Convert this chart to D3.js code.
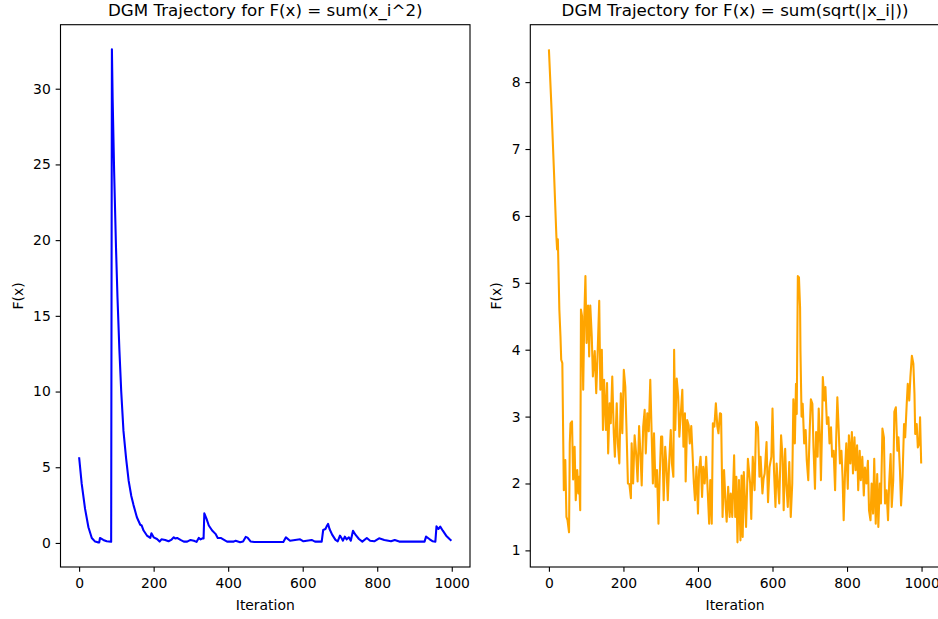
<!DOCTYPE html>
<html>
<head>
<meta charset="utf-8">
<script src="https://cdn.jsdelivr.net/npm/d3@7"></script>
<style>
  body { margin: 0; background: #fff; }
  svg { display: block; }
  text { font-family: 'DejaVu Sans', sans-serif; fill: #000; }
</style>
</head>
<body>
<script>
// Left panel: F(x) = sum(x_i^2), iteration / value pairs
const quadIter = [0, 7, 16, 25, 34, 43, 50, 54, 56, 65, 74, 85, 86, 88, 90, 94, 99, 103, 108, 113, 119, 126, 133, 140, 146, 155, 164, 168, 173, 182, 191, 194, 200, 209, 216, 221, 231, 240, 247, 254, 258, 263, 272, 281, 290, 299, 308, 315, 321, 326, 333, 334, 336, 342, 348, 357, 366, 372, 380, 389, 397, 415, 420, 432, 440, 447, 452, 460, 470, 548, 555, 566, 593, 602, 624, 633, 651, 655, 661, 664, 668, 672, 679, 688, 694, 700, 703, 708, 713, 718, 724, 729, 735, 742, 751, 760, 772, 781, 792, 805, 819, 837, 847, 859, 927, 931, 940, 949, 956, 959, 964, 969, 976, 985, 994, 999];
const quadVals = [5.66, 3.9, 2.25, 1.04, 0.33, 0.09, 0.04, 0.04, 0.33, 0.2, 0.11, 0.09, 0.08, 32.6, 29.3, 24.5, 19.5, 16.2, 12.8, 10.0, 7.4, 5.6, 4.1, 3.1, 2.5, 1.7, 1.2, 1.15, 0.82, 0.49, 0.33, 0.64, 0.37, 0.26, 0.09, 0.24, 0.2, 0.11, 0.2, 0.37, 0.29, 0.33, 0.2, 0.09, 0.09, 0.2, 0.15, 0.07, 0.33, 0.24, 0.33, 0.3, 1.96, 1.59, 1.15, 0.82, 0.6, 0.33, 0.33, 0.2, 0.09, 0.09, 0.15, 0.05, 0.1, 0.4, 0.35, 0.1, 0.06, 0.06, 0.37, 0.15, 0.24, 0.11, 0.2, 0.09, 0.09, 0.86, 0.92, 1.08, 1.26, 0.92, 0.55, 0.2, 0.11, 0.48, 0.37, 0.15, 0.42, 0.24, 0.37, 0.15, 0.81, 0.53, 0.26, 0.09, 0.33, 0.15, 0.11, 0.31, 0.2, 0.11, 0.2, 0.09, 0.09, 0.42, 0.26, 0.11, 0.09, 1.1, 0.92, 1.08, 0.81, 0.48, 0.26, 0.15];

// Right panel: F(x) = sum(sqrt(|x_i|))
const rootIter = [0, 7, 14, 20, 22, 24, 28, 31, 33, 36, 40, 44, 47, 50, 54, 56, 58, 62, 65, 69, 72, 76, 79, 81, 84, 86, 89, 92, 95, 98, 101, 105, 108, 111, 115, 118, 123, 127, 131, 135, 138, 142, 145, 148, 153, 156, 159, 163, 166, 170, 174, 177, 182, 185, 189, 193, 197, 201, 205, 208, 212, 216, 220, 222, 226, 230, 234, 238, 242, 246, 249, 253, 257, 260, 264, 268, 272, 275, 279, 282, 286, 290, 294, 297, 301, 304, 308, 312, 315, 319, 323, 327, 330, 334, 336, 339, 343, 347, 350, 354, 358, 361, 365, 367, 371, 375, 378, 382, 385, 389, 392, 396, 400, 403, 407, 411, 414, 418, 422, 426, 430, 433, 437, 440, 444, 448, 452, 455, 459, 462, 466, 470, 474, 477, 481, 485, 488, 492, 497, 500, 503, 506, 510, 514, 517, 520, 523, 529, 534, 540, 543, 547, 552, 556, 561, 565, 568, 573, 576, 579, 584, 588, 592, 597, 600, 604, 608, 611, 615, 618, 623, 627, 630, 634, 637, 641, 645, 649, 653, 656, 660, 663, 665, 668, 671, 674, 675, 678, 681, 685, 689, 692, 696, 700, 703, 707, 710, 714, 717, 721, 724, 728, 730, 733, 735, 739, 742, 746, 750, 753, 757, 760, 764, 768, 771, 774, 777, 781, 785, 788, 791, 795, 798, 802, 805, 809, 813, 816, 820, 823, 827, 830, 834, 837, 841, 845, 848, 852, 856, 859, 863, 866, 870, 873, 877, 881, 884, 888, 891, 895, 899, 902, 906, 910, 913, 917, 920, 924, 927, 931, 935, 938, 942, 945, 949, 953, 956, 960, 963, 967, 970, 974, 978, 981, 983, 987, 990, 994, 996, 999];
const rootVals = [8.49, 7.6, 6.6, 5.7, 5.5, 5.65, 4.6, 4.2, 3.85, 3.8, 1.9, 2.35, 1.5, 1.45, 1.27, 2.6, 2.9, 2.93, 2.06, 2.55, 1.75, 2.2, 1.85, 2.1, 1.6, 4.6, 4.5, 3.4, 4.5, 5.1, 4.1, 4.66, 3.9, 4.66, 4.2, 3.6, 3.98, 3.35, 4.0, 4.73, 3.4, 4.0, 2.8, 3.55, 2.8, 3.5, 2.45, 3.2, 2.9, 3.6, 2.76, 2.4, 3.2, 2.6, 2.3, 3.35, 2.75, 3.7, 3.45, 2.86, 2.0, 1.99, 1.78, 2.6, 2.0, 2.72, 2.45, 2.03, 2.86, 2.4, 1.97, 2.85, 3.1, 2.45, 3.05, 2.78, 3.55, 2.9, 2.0, 2.75, 1.95, 2.2, 1.4, 2.05, 2.7, 2.7, 1.75, 2.55, 2.3, 1.75, 2.35, 2.8, 2.3, 2.1, 4.0, 2.8, 3.57, 3.3, 2.7, 3.05, 3.4, 2.55, 3.05, 2.03, 2.95, 2.87, 2.6, 2.86, 2.5, 2.0, 1.75, 2.25, 1.55, 2.2, 2.4, 1.8, 2.25, 2.0, 2.4, 1.9, 1.4, 2.05, 1.4, 2.9, 2.85, 3.2, 2.85, 2.75, 3.05, 3.04, 1.5, 2.2, 1.7, 1.43, 1.95, 1.5, 1.85, 1.5, 2.42, 1.5, 2.1, 1.12, 2.05, 1.15, 2.12, 1.2, 2.17, 1.35, 2.37, 2.0, 1.47, 2.4, 1.9, 2.92, 2.84, 2.1, 2.4, 1.85, 2.07, 2.15, 2.62, 1.72, 2.24, 2.4, 3.12, 2.2, 1.65, 2.3, 1.95, 1.7, 2.72, 2.4, 1.6, 2.52, 2.0, 1.65, 2.32, 1.5, 2.0, 3.26, 2.6, 3.49, 3.04, 5.1, 5.08, 4.63, 3.99, 3.0, 3.19, 2.6, 2.8, 2.34, 2.05, 2.82, 3.26, 3.19, 2.54, 1.92, 2.77, 2.4, 3.12, 2.6, 2.05, 2.84, 3.59, 3.24, 3.44, 2.89, 2.99, 2.6, 2.84, 2.4, 2.49, 1.9, 2.7, 3.29, 2.89, 2.3, 2.49, 2.1, 1.45, 2.24, 2.6, 1.92, 2.72, 2.3, 2.77, 2.15, 2.69, 2.2, 2.57, 1.9, 2.49, 2.05, 2.4, 1.82, 2.24, 2.0, 2.34, 1.6, 1.45, 2.0, 1.55, 2.37, 1.4, 2.14, 1.35, 2.0, 1.7, 2.82, 2.69, 1.7, 1.9, 1.45, 2.0, 2.44, 1.65, 2.05, 3.07, 3.14, 2.49, 2.69, 2.2, 1.67, 2.1, 2.89, 2.69, 3.17, 3.49, 3.24, 3.59, 3.91, 3.79, 3.34, 2.74, 2.89, 2.54, 2.6, 2.99, 2.3];

// tick labels
const iterTicks = [0, 200, 400, 600, 800, 1000];
const quadTicks = [0, 5, 10, 15, 20, 25, 30];
const rootTicks = [1, 2, 3, 4, 5, 6, 7, 8];
const panelTitles = ['DGM Trajectory for F(x) = sum(x_i^2)', 'DGM Trajectory for F(x) = sum(sqrt(|x_i|))'];

document.addEventListener('DOMContentLoaded', function() {
    const svg = d3.select('body').append('svg')
        .attr('width', 938)
        .attr('height', 619);

    svg.append('rect').attr('width', 938).attr('height', 619).attr('fill', '#fff');

    const top = 24.7, bottom = 567;
    const tickLen = 4.86, tickPad = 4.86;

    // matplotlib style 5% margins around the data
    function padded(values) {
        const lo = d3.min(values), hi = d3.max(values);
        const m = (hi - lo) * 0.05;
        return [lo - m, hi + m];
    }

    // Draw one subplot
    function drawPanel(left, width, iters, vals, yTicks, color, title, ylabelX) {
        const g = svg.append('g');

        const x = d3.scaleLinear().domain(padded(iters)).range([left, left + width]);
        const y = d3.scaleLinear().domain(padded(vals)).range([bottom, top]);

        const line = d3.line()
            .x((d, i) => x(iters[i]))
            .y(d => y(d));

        g.append('path')
            .datum(vals)
            .attr('d', line)
            .attr('fill', 'none')
            .attr('stroke', color)
            .attr('stroke-width', 2.08)
            .attr('stroke-linejoin', 'round');

        // x axis
        const xAxis = g.append('g')
            .attr('transform', `translate(0,${bottom})`)
            .call(d3.axisBottom(x).tickValues(iterTicks).tickFormat(d3.format('d'))
                .tickSize(tickLen).tickPadding(tickPad).tickSizeOuter(0));
        xAxis.select('.domain').remove();
        xAxis.selectAll('text').attr('dy', '0.78em');

        // y axis
        const yAxis = g.append('g')
            .attr('transform', `translate(${left},0)`)
            .call(d3.axisLeft(y).tickValues(yTicks).tickFormat(d3.format('d'))
                .tickSize(tickLen).tickPadding(tickPad).tickSizeOuter(0));
        yAxis.select('.domain').remove();

        [xAxis, yAxis].forEach(a => {
            a.selectAll('line').attr('stroke', '#000').attr('stroke-width', 1.11);
            a.selectAll('text')
                .style('font-family', "'DejaVu Sans', sans-serif")
                .style('font-size', '13.9px')
                .attr('fill', '#000');
        });

        // axes frame
        g.append('rect')
            .attr('x', left)
            .attr('y', top)
            .attr('width', width)
            .attr('height', bottom - top)
            .attr('fill', 'none')
            .attr('stroke', '#000')
            .attr('stroke-width', 1.11);

        g.append('text')
            .attr('x', left + width / 2)
            .attr('y', 16)
            .attr('text-anchor', 'middle')
            .style('font-size', '16.7px')
            .text(title);

        g.append('text')
            .attr('x', left + width / 2)
            .attr('y', 610)
            .attr('text-anchor', 'middle')
            .style('font-size', '13.9px')
            .text('Iteration');

        g.append('text')
            .attr('transform', `translate(${ylabelX},${(top + bottom) / 2}) rotate(-90)`)
            .attr('text-anchor', 'middle')
            .style('font-size', '13.9px')
            .text('F(x)');
    }

    drawPanel(60.5, 409.5, quadIter, quadVals, quadTicks, 'blue', panelTitles[0], 23);
    drawPanel(530.3, 409.5, rootIter, rootVals, rootTicks, 'orange', panelTitles[1], 500.5);
});
</script>
</body>
</html>
